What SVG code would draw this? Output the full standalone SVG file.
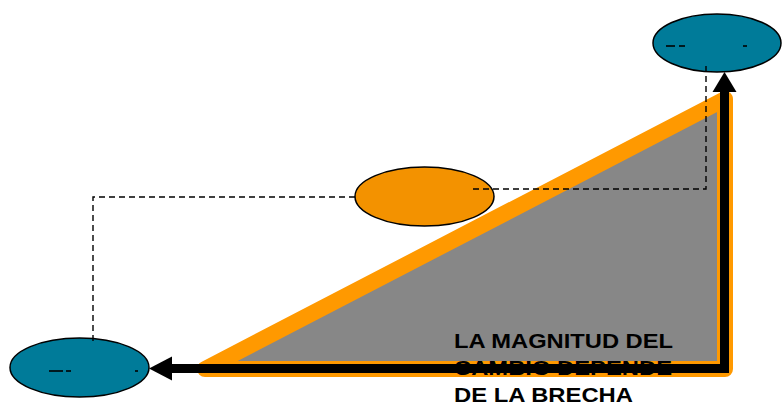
<svg xmlns="http://www.w3.org/2000/svg" width="784" height="405" viewBox="0 0 784 405">
  <style>
    .teal { fill: #007B99; stroke: #000; stroke-width: 1.5; }
    .mid { fill: #F39200; stroke: #000; stroke-width: 1.5; }
    .dash { fill: none; stroke: #000; stroke-width: 1.4; stroke-dasharray: 6 4; }
    .frag { stroke: #000; stroke-width: 1.6; }
    .arrow { fill: none; stroke: #000; stroke-width: 9; stroke-linejoin: miter; }
    .label { font-family: "Liberation Sans", Arial, sans-serif; font-weight: bold; font-size: 20px; fill: #000; }
  </style>
  <rect width="784" height="405" fill="#fff"/>
  <g id="gap-triangle">
    <polygon points="205,369 725,99 725,369" fill="#878787" stroke="#FF9900" stroke-width="16" stroke-linejoin="round"/>
  </g>
  <g id="node-bottom">
    <ellipse class="teal" cx="79.5" cy="367.5" rx="69.5" ry="29.5"/>
    <line class="frag" x1="49" y1="371" x2="63" y2="371"/>
    <line class="frag" x1="66" y1="371" x2="71" y2="371"/>
    <line class="frag" x1="135" y1="371" x2="138" y2="371"/>
  </g>
  <g id="node-middle">
    <ellipse class="mid" cx="424.5" cy="196.5" rx="69.5" ry="29.5"/>
  </g>
  <g id="node-top">
    <ellipse class="teal" cx="717" cy="43" rx="64" ry="29"/>
    <line class="frag" x1="666" y1="46" x2="675" y2="46"/>
    <line class="frag" x1="679" y1="46" x2="685" y2="46"/>
    <line class="frag" x1="743" y1="46" x2="747" y2="46"/>
  </g>
  <g id="connectors">
    <polyline class="dash" points="355,197 93,197 93,345"/>
    <polyline class="dash" points="473,189 706,189 706,66"/>
    <polyline class="arrow" points="172,368.5 724.5,368.5 724.5,92"/>
    <polygon points="149,368.5 172,356.5 172,380.5" fill="#000"/>
    <polygon points="724.5,72 712.5,92 736.5,92" fill="#000"/>
  </g>
  <g id="caption">
    <text class="label" x="454" y="348" textLength="219" lengthAdjust="spacingAndGlyphs">LA MAGNITUD DEL</text>
    <text class="label" x="454" y="375" textLength="218" lengthAdjust="spacingAndGlyphs">CAMBIO DEPENDE</text>
    <text class="label" x="454" y="401.5" textLength="179" lengthAdjust="spacingAndGlyphs">DE LA BRECHA</text>
  </g>
</svg>
